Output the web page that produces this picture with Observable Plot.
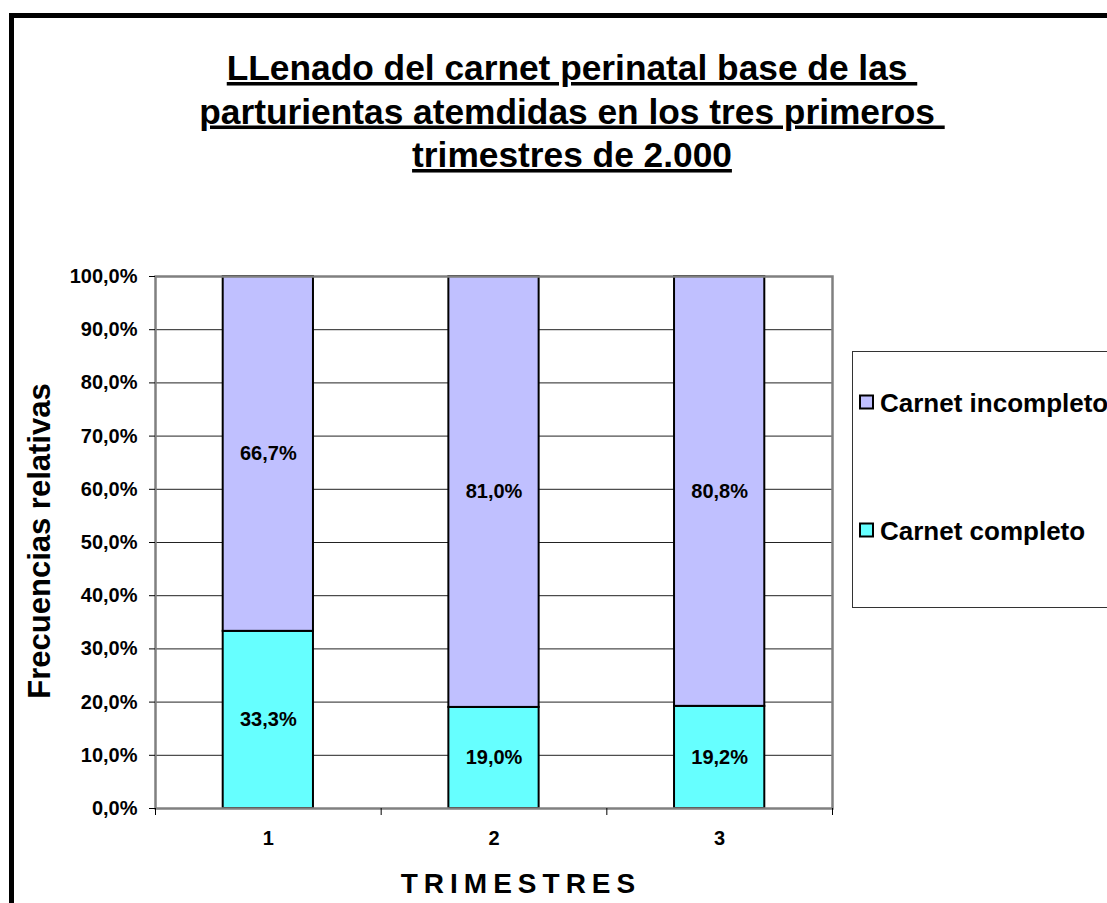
<!DOCTYPE html>
<html>
<head>
<meta charset="utf-8">
<script src="https://cdn.jsdelivr.net/npm/d3@7"></script>
<script src="https://cdn.jsdelivr.net/npm/@observablehq/plot@0.6"></script>
<style>
  html, body { margin: 0; padding: 0; background: #fff; overflow: hidden; }
  #chart { position: relative; width: 1107px; height: 903px; }
</style>
</head>
<body>
<div id="chart"></div>
<script>
const titleLines = ["LLenado del carnet perinatal base de las ", "parturientas atemdidas en los tres primeros ", "trimestres de 2.000"];
const trimestres = [1, 2, 3];
const series = ["Carnet completo", "Carnet incompleto"];
const completo = [33.3, 19.0, 19.2];
const incompleto = [66.7, 81.0, 80.8];
const colors = ["#66FFFF", "#C0C0FF"];
const yTicks = [0, 10, 20, 30, 40, 50, 60, 70, 80, 90, 100];
const xTitle = "TRIMESTRES";
const yTitle = "Frecuencias relativas";
const legendOrder = ["Carnet incompleto", "Carnet completo"];

const fmt = v => v.toFixed(1).replace(".", ",") + "%";
const font = "Arial, 'Liberation Sans', sans-serif";

// stacked table
const rows = [];
trimestres.forEach((t, i) => {
  let base = 0;
  [completo[i], incompleto[i]].forEach((v, j) => {
    rows.push({t, serie: series[j], value: v, y1: base, y2: base + v});
    base += v;
  });
});
const half = 0.2;
const boundaries = [0.5, 1.5, 2.5, 3.5];

const plot = Plot.plot({
  width: 1107,
  height: 903,
  marginLeft: 155,
  marginRight: 275,
  marginTop: 276,
  marginBottom: 95,
  style: {fontFamily: font, background: "transparent"},
  x: {type: "linear", domain: [0.5, 3.5]},
  y: {domain: [0, 100]},
  color: {domain: series, range: colors},
  marks: [
    Plot.gridY(yTicks, {stroke: "#222", strokeOpacity: 1, strokeWidth: 1}),
    Plot.rect(rows, {
      x1: d => d.t - half, x2: d => d.t + half,
      y1: "y1", y2: "y2",
      fill: "serie", stroke: "#000", strokeWidth: 2
    }),
    Plot.text(rows, {
      x: "t", y: d => (d.y1 + d.y2) / 2,
      text: d => fmt(d.value),
      fontSize: 20, fontWeight: "bold", fill: "#000"
    }),
    Plot.frame({stroke: "#808080", strokeWidth: 2.5}),
    Plot.axisY(yTicks, {
      tickFormat: fmt, tickSize: 6, tickPadding: 12,
      fontSize: 20, fontWeight: "bold", fill: "#000", stroke: "#000",
      label: null
    }),
    Plot.axisX(boundaries, {
      tickFormat: () => "", tickSize: 7, stroke: "#000", label: null
    }),
    Plot.axisX(trimestres, {
      tickSize: 0, tickPadding: 22, tickFormat: d => String(d),
      fontSize: 20, fontWeight: "bold", fill: "#000", label: null
    })
  ]
});

document.getElementById("chart").appendChild(plot);
const svg = d3.select(plot);

// outer border
svg.append("rect")
  .attr("x", 11.5).attr("y", 15.5)
  .attr("width", 2000).attr("height", 2000)
  .attr("fill", "none").attr("stroke", "#000").attr("stroke-width", 5);

// title
const title = svg.append("g")
  .attr("font-family", font).attr("font-weight", "bold")
  .attr("font-size", 35.3).attr("text-anchor", "middle").attr("fill", "#000");
titleLines.forEach((line, i) => {
  title.append("text")
    .attr("x", 572).attr("y", 80 + i * 43.5)
    .style("white-space", "pre")
    .style("text-decoration", "underline")
    .text(line);
});

// axis titles
svg.append("text")
  .attr("transform", "translate(50,541) rotate(-90)")
  .attr("text-anchor", "middle")
  .attr("font-family", font).attr("font-weight", "bold").attr("font-size", 31)
  .attr("fill", "#000")
  .text(yTitle);
svg.append("text")
  .attr("x", 521).attr("y", 893)
  .attr("text-anchor", "middle")
  .attr("letter-spacing", 6)
  .attr("font-family", font).attr("font-weight", "bold").attr("font-size", 28)
  .attr("fill", "#000")
  .text(xTitle);

// legend
const lg = svg.append("g").attr("text-anchor", "start");
lg.append("rect")
  .attr("x", 852.5).attr("y", 351.5).attr("width", 400).attr("height", 256)
  .attr("fill", "#fff").attr("stroke", "#333").attr("stroke-width", 1);
legendOrder.forEach((name, i) => {
  const cy = 402 + i * 128;
  lg.append("rect")
    .attr("x", 860).attr("y", cy - 6.5).attr("width", 13).attr("height", 13)
    .attr("fill", colors[series.indexOf(name)]).attr("stroke", "#000").attr("stroke-width", 2);
  lg.append("text")
    .attr("x", 880).attr("y", cy + 9.5)
    .attr("text-anchor", "start")
    .attr("font-family", font).attr("font-weight", "bold").attr("font-size", 26)
    .attr("fill", "#000")
    .text(name);
});
</script>
</body>
</html>
